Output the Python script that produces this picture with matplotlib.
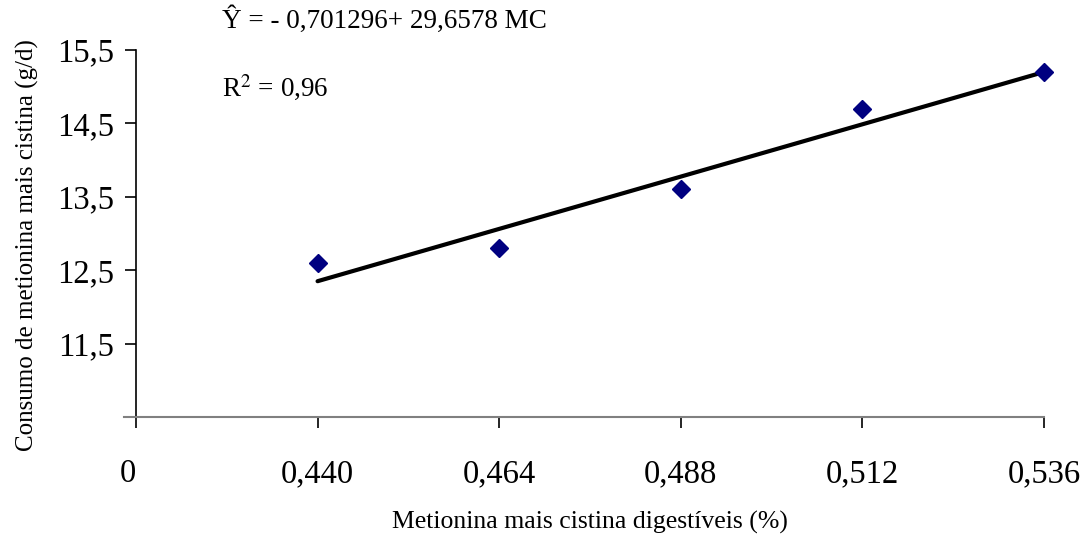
import matplotlib.pyplot as plt

plt.rcParams['font.family'] = ['Liberation Serif', 'DejaVu Serif']
plt.rcParams['mathtext.fontset'] = 'stix'

x_labels = ['0', '0,440', '0,464', '0,488', '0,512', '0,536']
mc_levels = [1, 2, 3, 4, 5]          # positions of 0,440 ... 0,536 on the axis
consumo = [12.6, 12.8, 13.6, 14.7, 15.2]
fit_x = [1, 5]
fit_y = [12.35, 15.20]
y_ticks = [10.5, 11.5, 12.5, 13.5, 14.5, 15.5]
y_labels = ['', '11,5', '12,5', '13,5', '14,5', '15,5']

fig = plt.figure(figsize=(10.86, 5.41), dpi=100)
ax = fig.add_axes([0.1252, 0.2292, 0.9613 - 0.1252, 0.9076 - 0.2292])

ax.plot(fit_x, fit_y, color='black', lw=3, solid_capstyle='round', zorder=2)
ax.plot(mc_levels, consumo, 'D', color='#000080', markersize=9, zorder=3, clip_on=False)

ax.set_xlim(0, 5)
ax.set_ylim(10.5, 15.5)
ax.set_xticks(range(len(x_labels)))
ax.set_xticklabels(x_labels, fontsize=23.5)
ax.set_yticks(y_ticks)
ax.set_yticklabels(y_labels, fontsize=23.5)

for s in ['top', 'right']:
    ax.spines[s].set_visible(False)
ax.spines['left'].set_color('black')
ax.spines['bottom'].set_color('#808080')
ax.spines['bottom'].set_bounds(-0.065, 5)
ax.spines['left'].set_linewidth(1.2)
ax.spines['bottom'].set_linewidth(1.5)
ax.tick_params(axis='y', direction='out', length=8, width=1.2, pad=8, colors='black')
ax.tick_params(axis='x', direction='out', length=8, width=1.2, pad=22)

# the "0" label sits a little left of its tick
zero_lbl = ax.get_xticklabels()[0]
zero_lbl.set_horizontalalignment('right')
zero_lbl.set_x(0.055)

ax.set_xlabel('Metionina mais cistina digestíveis (%)', fontsize=18.5, labelpad=16)
ax.set_ylabel('Consumo de metionina mais cistina (g/d)', fontsize=18)
ax.yaxis.set_label_coords(-0.107, 0.468)

fig.text(0.204, 0.963, 'Ŷ = - 0,701296+ 29,6578 MC', fontsize=19.5, va='center', ha='left')
fig.text(0.204, 0.837, r'R$^2$ = 0,96', fontsize=19.5, va='center', ha='left')

fig.savefig('out.png', dpi=100)
